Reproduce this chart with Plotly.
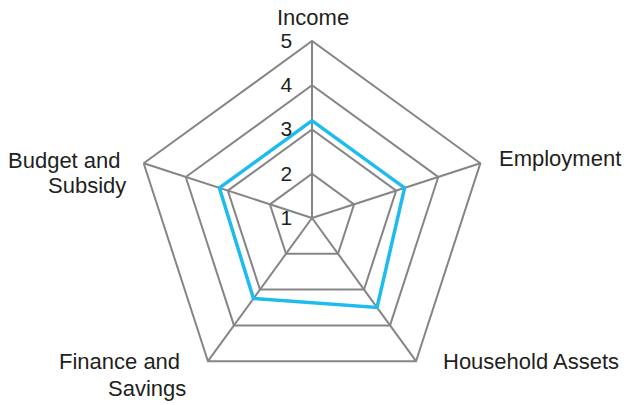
import plotly.graph_objects as go

categories = ["Income", "Employment", "Household Assets", "Finance and Savings", "Budget and Subsidy"]
values = [3.2, 3.2, 3.5, 3.25, 3.2]
radial_ticks = [1, 2, 3, 4, 5]
radial_ticktext = ["1", "2", "3", "4", "5"]

# Category label lines (display text), with layout positions in pixels
label_lines = [
    ("Income", 312.5, 17.5, "center"),
    ("Employment", 497, 158.5, "left"),
    ("Household Assets", 440.5, 361, "left"),
    ("Finance and", 182, 361, "right"),
    ("Savings", 188, 388, "right"),
    ("Budget and", 123, 160, "right"),
    ("Subsidy", 128, 185.5, "right"),
]

W, H = 624, 405
CX, CY, R = 312, 218, 177

r_closed = values + values[:1]
theta_closed = categories + categories[:1]

fig = go.Figure()
fig.add_trace(go.Scatterpolar(
    r=r_closed, theta=theta_closed, mode="lines",
    line=dict(color="#1ebcee", width=3.5),
    showlegend=False, hoverinfo="skip",
))

font_family = "Liberation Sans, Arial, sans-serif"
text_color = "#231f20"
grid_color = "#858585"

annotations = []
for txt, px, py, anchor in label_lines:
    annotations.append(dict(
        text=txt, xref="paper", yref="paper",
        x=px / W, y=1 - py / H, xanchor=anchor, yanchor="middle",
        showarrow=False, font=dict(size=22, color=text_color, family=font_family),
    ))

fig.update_layout(
    width=W, height=H,
    margin=dict(l=0, r=0, t=0, b=0),
    paper_bgcolor="white",
    plot_bgcolor="white",
    font=dict(family=font_family, color=text_color),
    annotations=annotations,
    polar=dict(
        bgcolor="white",
        gridshape="linear",
        domain=dict(x=[(CX - R) / W, (CX + R) / W], y=[1 - (CY + R) / H, 1 - (CY - R) / H]),
        radialaxis=dict(
            range=[1, 5], tickvals=radial_ticks, ticktext=radial_ticktext,
            angle=90, tickangle=90, side="counterclockwise",
            showline=False, gridcolor=grid_color, gridwidth=2,
            ticks="outside", ticklen=12, tickcolor="rgba(0,0,0,0)",
            tickfont=dict(size=21, color=text_color),
        ),
        angularaxis=dict(
            direction="clockwise", rotation=90,
            categoryorder="array", categoryarray=categories,
            showline=True, linecolor=grid_color, linewidth=2,
            gridcolor=grid_color, gridwidth=2,
            ticks="", showticklabels=False,
        ),
    ),
)

fig.write_html("out.html", config={"displayModeBar": False},
               post_script="document.body.style.margin='0';")
